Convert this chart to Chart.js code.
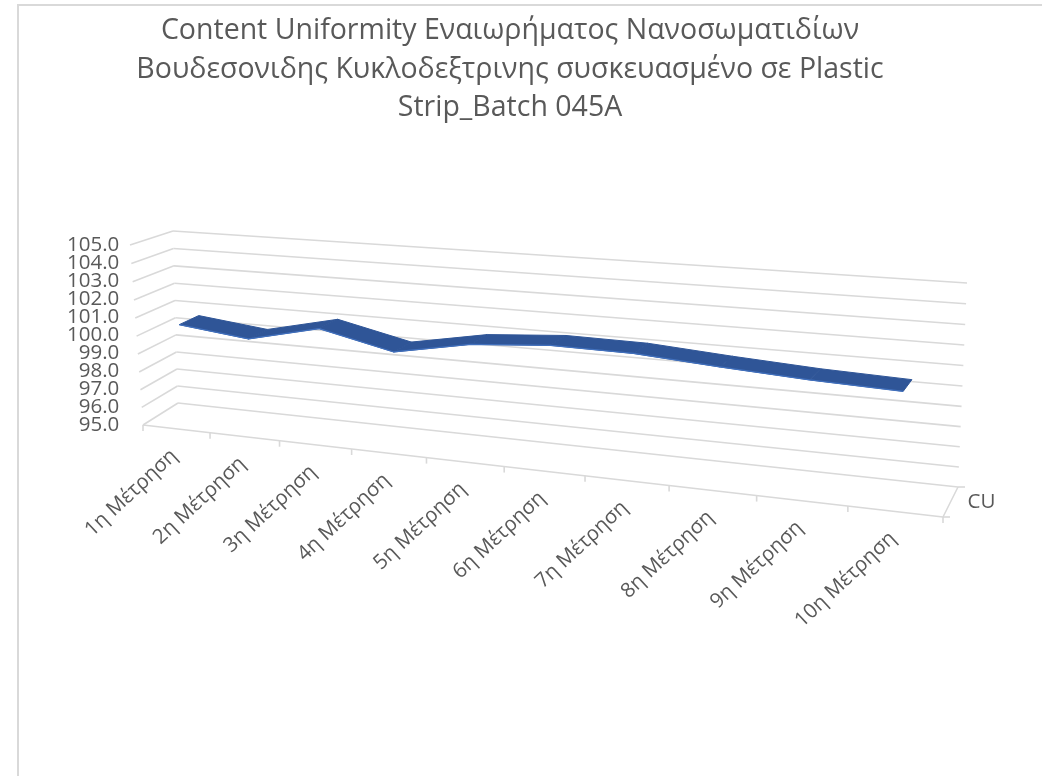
<!DOCTYPE html>
<html>
<head>
<meta charset="utf-8">
<title>Content Uniformity - Batch 045A</title>
<script src="https://cdn.jsdelivr.net/npm/chart.js@4.4.1/dist/chart.umd.min.js"></script>
<style>
    html, body { margin: 0; padding: 0; background: #ffffff; }
    #chartWrap { width: 1042px; height: 776px; }
</style>
</head>
<body>
<div id="chartWrap"><canvas id="cuChart" width="1042" height="776"></canvas></div>
<script>
// Δεδομένα
const titleLines = [
    'Content Uniformity Εναιωρήματος Νανοσωματιδίων',
    'Βουδεσονιδης Κυκλοδεξτρινης συσκευασμένο σε Plastic',
    'Strip_Batch 045A'
];
const measurements = [
    '1η Μέτρηση', '2η Μέτρηση', '3η Μέτρηση', '4η Μέτρηση', '5η Μέτρηση',
    '6η Μέτρηση', '7η Μέτρηση', '8η Μέτρηση', '9η Μέτρηση', '10η Μέτρηση'
];
const cuValues = [100.55, 100.1, 101.0, 100.1, 100.85, 101.15, 101.1, 100.8, 100.55, 100.4];
const seriesName = 'CU';
const valueMin = 95;
const valueMax = 105;
const valueStep = 1;

const textColor = '#595959';
const gridColor = '#D9D9D9';
const ribbonColor = '#2F5597';
const ribbonEdge = '#4170BD';

// 3D κουτί: μπροστινό επίπεδο (βάθος 0) και πίσω τοίχος (βάθος 1)
// γωνίες: lb = κάτω αριστερά, rb = κάτω δεξιά, rt = πάνω δεξιά, lt = πάνω αριστερά
const frontPlane = { lb: [143, 425], rb: [943, 517], rt: [952, 300], lt: [130, 245] };
const backPlane = { lb: [178, 403], rb: [958, 487], rt: [967, 283], lt: [173, 231] };
const ribbonDepth = [0.25, 0.75];
const labelAngle = -43 * Math.PI / 180;

// square -> quad (προοπτική απεικόνιση)
function quadMap(p0, p1, p2, p3) {
    const [x0, y0] = p0, [x1, y1] = p1, [x2, y2] = p2, [x3, y3] = p3;
    const dx1 = x1 - x2, dx2 = x3 - x2, dx3 = x0 - x1 + x2 - x3;
    const dy1 = y1 - y2, dy2 = y3 - y2, dy3 = y0 - y1 + y2 - y3;
    const den = dx1 * dy2 - dx2 * dy1;
    const g = (dx3 * dy2 - dx2 * dy3) / den;
    const h = (dx1 * dy3 - dx3 * dy1) / den;
    const a = x1 - x0 + g * x1, b = x3 - x0 + h * x3, c = x0;
    const d = y1 - y0 + g * y1, e = y3 - y0 + h * y3, f = y0;
    return (u, v) => {
        const w = g * u + h * v + 1;
        return { x: (a * u + b * v + c) / w, y: (d * u + e * v + f) / w };
    };
}

function lerpPt(a, b, t) {
    return [a[0] + (b[0] - a[0]) * t, a[1] + (b[1] - a[1]) * t];
}

function planeAt(z) {
    return quadMap(
        lerpPt(frontPlane.lb, backPlane.lb, z),
        lerpPt(frontPlane.rb, backPlane.rb, z),
        lerpPt(frontPlane.rt, backPlane.rt, z),
        lerpPt(frontPlane.lt, backPlane.lt, z)
    );
}

function project(u, v, z) {
    return planeAt(z)(u, v);
}

function line(ctx, a, b) {
    ctx.beginPath();
    ctx.moveTo(a.x, a.y);
    ctx.lineTo(b.x, b.y);
    ctx.stroke();
}

// u, v από τις κλίμακες του Chart.js
function toUV(chart, px, py) {
    const xs = chart.scales.x, ys = chart.scales.y;
    return {
        u: (px - xs.left) / (xs.right - xs.left),
        v: (ys.bottom - py) / (ys.bottom - ys.top)
    };
}

const perspectivePlugin = {
    id: 'perspective3d',
    beforeDatasetsDraw(chart) {
        const ctx = chart.ctx;
        const xs = chart.scales.x, ys = chart.scales.y;
        ctx.save();
        ctx.strokeStyle = gridColor;
        ctx.lineWidth = 1.6;

        // γραμμές πλέγματος: πλάγιος τοίχος + πίσω τοίχος
        ys.ticks.forEach((t) => {
            const v = toUV(chart, 0, ys.getPixelForValue(t.value)).v;
            line(ctx, project(0, v, 0), project(0, v, 1));
            line(ctx, project(0, v, 1), project(1, v, 1));
        });

        // δάπεδο: μπροστινή ακμή και δεξιά ακμή (άξονας σειράς)
        line(ctx, project(0, 0, 0), project(1, 0, 0));
        line(ctx, project(1, 0, 0), project(1, 0, 1));

        // υποδιαιρέσεις κατηγοριών
        for (let k = 0; k <= measurements.length; k++) {
            const u = toUV(chart, xs.getPixelForValue(k - 0.5), 0).u;
            const p = project(u, 0, 0);
            line(ctx, p, { x: p.x, y: p.y + 6 });
        }
        [0, 1].forEach((z) => {
            const p = project(1, 0, z);
            line(ctx, p, { x: p.x + 7, y: p.y });
        });

        // ετικέτες κατηγοριών
        ctx.fillStyle = textColor;
        ctx.font = '20.5px "Open Sans"';
        ctx.textAlign = 'right';
        ctx.textBaseline = 'middle';
        measurements.forEach((label, i) => {
            const u = toUV(chart, xs.getPixelForValue(i), 0).u;
            const p = project(u, 0, 0);
            ctx.save();
            ctx.translate(p.x - 2, p.y + 24);
            ctx.rotate(labelAngle);
            ctx.fillText(label, 0, 0);
            ctx.restore();
        });

        // όνομα σειράς
        const s = project(1, 0, 0.5);
        ctx.textAlign = 'left';
        ctx.fillText(seriesName, s.x + 17, s.y);
        ctx.restore();
    },
    afterDatasetsDraw(chart) {
        const ctx = chart.ctx;
        const meta = chart.getDatasetMeta(0);
        const pts = meta.data.map((el) => toUV(chart, el.x, el.y));
        const front = pts.map((p) => project(p.u, p.v, ribbonDepth[0]));
        const back = pts.map((p) => project(p.u, p.v, ribbonDepth[1]));

        ctx.save();
        // κορδέλα της γραμμής (3D line)
        ctx.fillStyle = ribbonColor;
        ctx.strokeStyle = ribbonColor;
        ctx.lineWidth = 1;
        ctx.lineJoin = 'round';
        for (let i = 0; i < pts.length - 1; i++) {
            ctx.beginPath();
            ctx.moveTo(front[i].x, front[i].y);
            ctx.lineTo(front[i + 1].x, front[i + 1].y);
            ctx.lineTo(back[i + 1].x, back[i + 1].y);
            ctx.lineTo(back[i].x, back[i].y);
            ctx.closePath();
            ctx.fill();
            ctx.stroke();
        }
        ctx.strokeStyle = ribbonEdge;
        ctx.lineWidth = 1.2;
        ctx.beginPath();
        front.forEach((p, i) => (i ? ctx.lineTo(p.x, p.y) : ctx.moveTo(p.x, p.y)));
        ctx.stroke();
        ctx.restore();
    },
    afterDraw(chart) {
        // πλαίσιο γραφήματος
        const ctx = chart.ctx;
        ctx.save();
        ctx.strokeStyle = gridColor;
        ctx.lineWidth = 2;
        ctx.beginPath();
        ctx.moveTo(18, chart.height);
        ctx.lineTo(18, 5);
        ctx.lineTo(chart.width, 5);
        ctx.stroke();
        ctx.restore();
    }
};

Chart.defaults.font.family = '"Open Sans"';

const ctx = document.getElementById('cuChart').getContext('2d');
const cuChart = new Chart(ctx, {
    type: 'line',
    data: {
        labels: measurements,
        datasets: [
            {
                label: seriesName,
                data: cuValues,
                showLine: false,
                pointRadius: 0,
                borderWidth: 0
            }
        ]
    },
    options: {
        responsive: false,
        devicePixelRatio: 1,
        animation: false,
        layout: { padding: { top: 0, left: 64, right: 86, bottom: 351 } },
        plugins: {
            legend: { display: false },
            tooltip: { enabled: false },
            title: {
                display: true,
                text: titleLines,
                color: textColor,
                font: { size: 28.5, weight: 'normal', lineHeight: 1.35 },
                padding: { top: 12, bottom: 117.5 }
            }
        },
        scales: {
            x: { type: 'category', display: false, offset: true },
            y: {
                min: valueMin,
                max: valueMax,
                grid: { display: false },
                border: { display: false },
                ticks: {
                    stepSize: valueStep,
                    autoSkip: false,
                    padding: 3,
                    color: textColor,
                    font: { size: 20.5 },
                    callback: (v) => Number(v).toFixed(1)
                }
            }
        }
    },
    plugins: [perspectivePlugin]
});
</script>
</body>
</html>
